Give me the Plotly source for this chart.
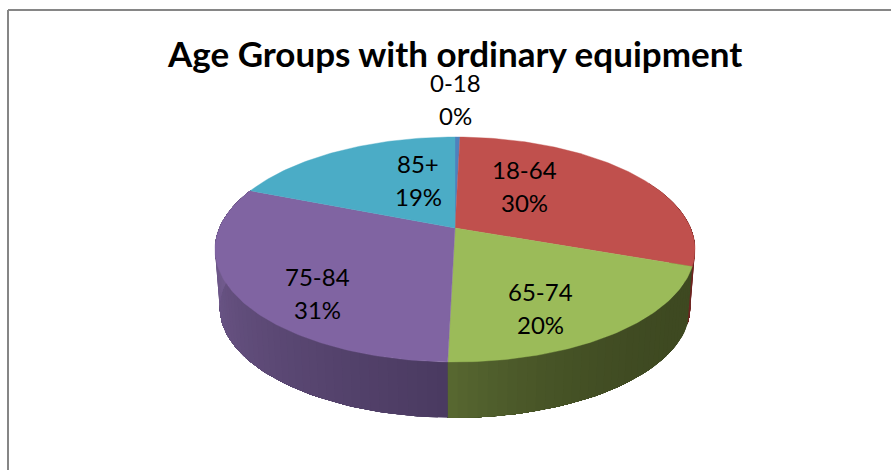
import math
import plotly.graph_objects as go

TITLE = "Age Groups with ordinary equipment"
categories = ["0-18", "18-64", "65-74", "75-84", "85+"]
values = [0.4, 30.0, 20.0, 30.6, 19.0]

top_colors = ["#4f81bd", "#c0504d", "#9bbb59", "#8064a2", "#4bacc6"]
# side shade of each slice: colour at start angle, colour at end angle, easing power
side_shades = {
    "18-64": ("#6e2421", "#6e2421", 1),
    "65-74": ("#3e4921", "#586831", 3),
    "75-84": ("#4a3a60", "#7a6298", 1),
}

# label centres in chart pixels (layout only)
label_pos = {"0-18": (455, 82.5), "18-64": (524.5, 169.5), "65-74": (540, 291.5),
             "75-84": (317.5, 276), "85+": (418, 163.5)}
LINE_GAP = 33

# pie geometry (perspective view of a disc)
CX, CY = 455, 228
A, B, K = 235.6, 108.4, 0.191
DEPTH_Y, DEPTH_SCALE = 58, 0.98
ELL_CY = 249.5
VISIBLE_COS = 0.45


def top_pt(theta):
    u, v = math.sin(theta), math.cos(theta)
    w = 1 + K * v
    return CX + A * u / w, CY - B * v / w


def bot_pt(theta):
    x, y = top_pt(theta)
    return CX + (x - CX) * DEPTH_SCALE, ELL_CY + (y - ELL_CY) * DEPTH_SCALE + DEPTH_Y


def mix(c1, c2, t):
    a = [int(c1[i:i + 2], 16) for i in (1, 3, 5)]
    b = [int(c2[i:i + 2], 16) for i in (1, 3, 5)]
    return "rgb(%d,%d,%d)" % tuple(round(p + (q - p) * t) for p, q in zip(a, b))


total = sum(values)
edges = [0.0]
for val in values:
    edges.append(edges[-1] + val / total * 2 * math.pi)
front_lo = math.acos(VISIBLE_COS)
front_hi = 2 * math.pi - front_lo

fig = go.Figure()

# visible side wall: nested bands painted over one another, so no seams show
for i, cat in enumerate(categories):
    if cat not in side_shades:
        continue
    t0, t1 = edges[i], edges[i + 1]
    c0, c1, power = side_shades[cat]
    vis0, vis1 = max(t0, front_lo), min(t1, front_hi)
    n = max(2, int((vis1 - vis0) / math.radians(2)))
    for j in range(n):
        start = vis0 + (vis1 - vis0) * j / n
        m = max(1, int((vis1 - start) / math.radians(2)))
        arc = [start + (vis1 - start) * q / m for q in range(m + 1)]
        p = [top_pt(q) for q in arc] + [bot_pt(q) for q in reversed(arc)]
        p.append(p[0])
        frac = (start + (vis1 - vis0) / n / 2 - t0) / (t1 - t0)
        col = mix(c0, c1, frac ** power)
        fig.add_trace(go.Scatter(x=[q[0] for q in p], y=[q[1] for q in p], mode="lines",
                                 fill="toself", fillcolor=col, line=dict(color=col, width=0),
                                 hoverinfo="skip", showlegend=False))

# top face
for i, cat in enumerate(categories):
    t0, t1 = edges[i], edges[i + 1]
    n = max(2, int((t1 - t0) / math.radians(1)))
    pts = [(CX, CY)] + [top_pt(t0 + (t1 - t0) * j / n) for j in range(n + 1)] + [(CX, CY)]
    fig.add_trace(go.Scatter(x=[q[0] for q in pts], y=[q[1] for q in pts], mode="lines",
                             fill="toself", fillcolor=top_colors[i],
                             line=dict(color=top_colors[i], width=0.4),
                             name=cat, text="%s: %.0f%%" % (cat, values[i] / total * 100),
                             hoverinfo="text", showlegend=False))

annotations = []
for cat, val in zip(categories, values):
    lx, ly = label_pos[cat]
    for k, line in enumerate([cat, "%.0f%%" % (val / total * 100)]):
        annotations.append(dict(x=lx, y=ly + k * LINE_GAP, text=line, showarrow=False,
                                xref="x", yref="y", xanchor="center", yanchor="middle",
                                font=dict(family="Lato", size=24, color="#000000")))
annotations.append(dict(x=454.5, y=53, text="<b>%s</b>" % TITLE, showarrow=False, xref="x", yref="y",
                        xanchor="center", yanchor="middle",
                        font=dict(family="Lato", size=35, color="#000000")))

frame = dict(color="#868686", width=2)
fig.update_layout(
    width=891, height=470, margin=dict(l=0, r=0, t=0, b=0),
    paper_bgcolor="#ffffff", plot_bgcolor="#ffffff", showlegend=False,
    xaxis=dict(range=[0, 891], visible=False, fixedrange=True),
    yaxis=dict(range=[470, 0], visible=False, fixedrange=True),
    annotations=annotations,
    shapes=[dict(type="line", x0=8, x1=891, y0=10, y1=10, line=frame, layer="below"),
            dict(type="line", x0=8, x1=8, y0=10, y1=470, line=frame, layer="below")],
)
fig.write_html("out.html", config={"displayModeBar": False},
               post_script="document.body.style.margin='0';document.documentElement.style.overflow='hidden';")
